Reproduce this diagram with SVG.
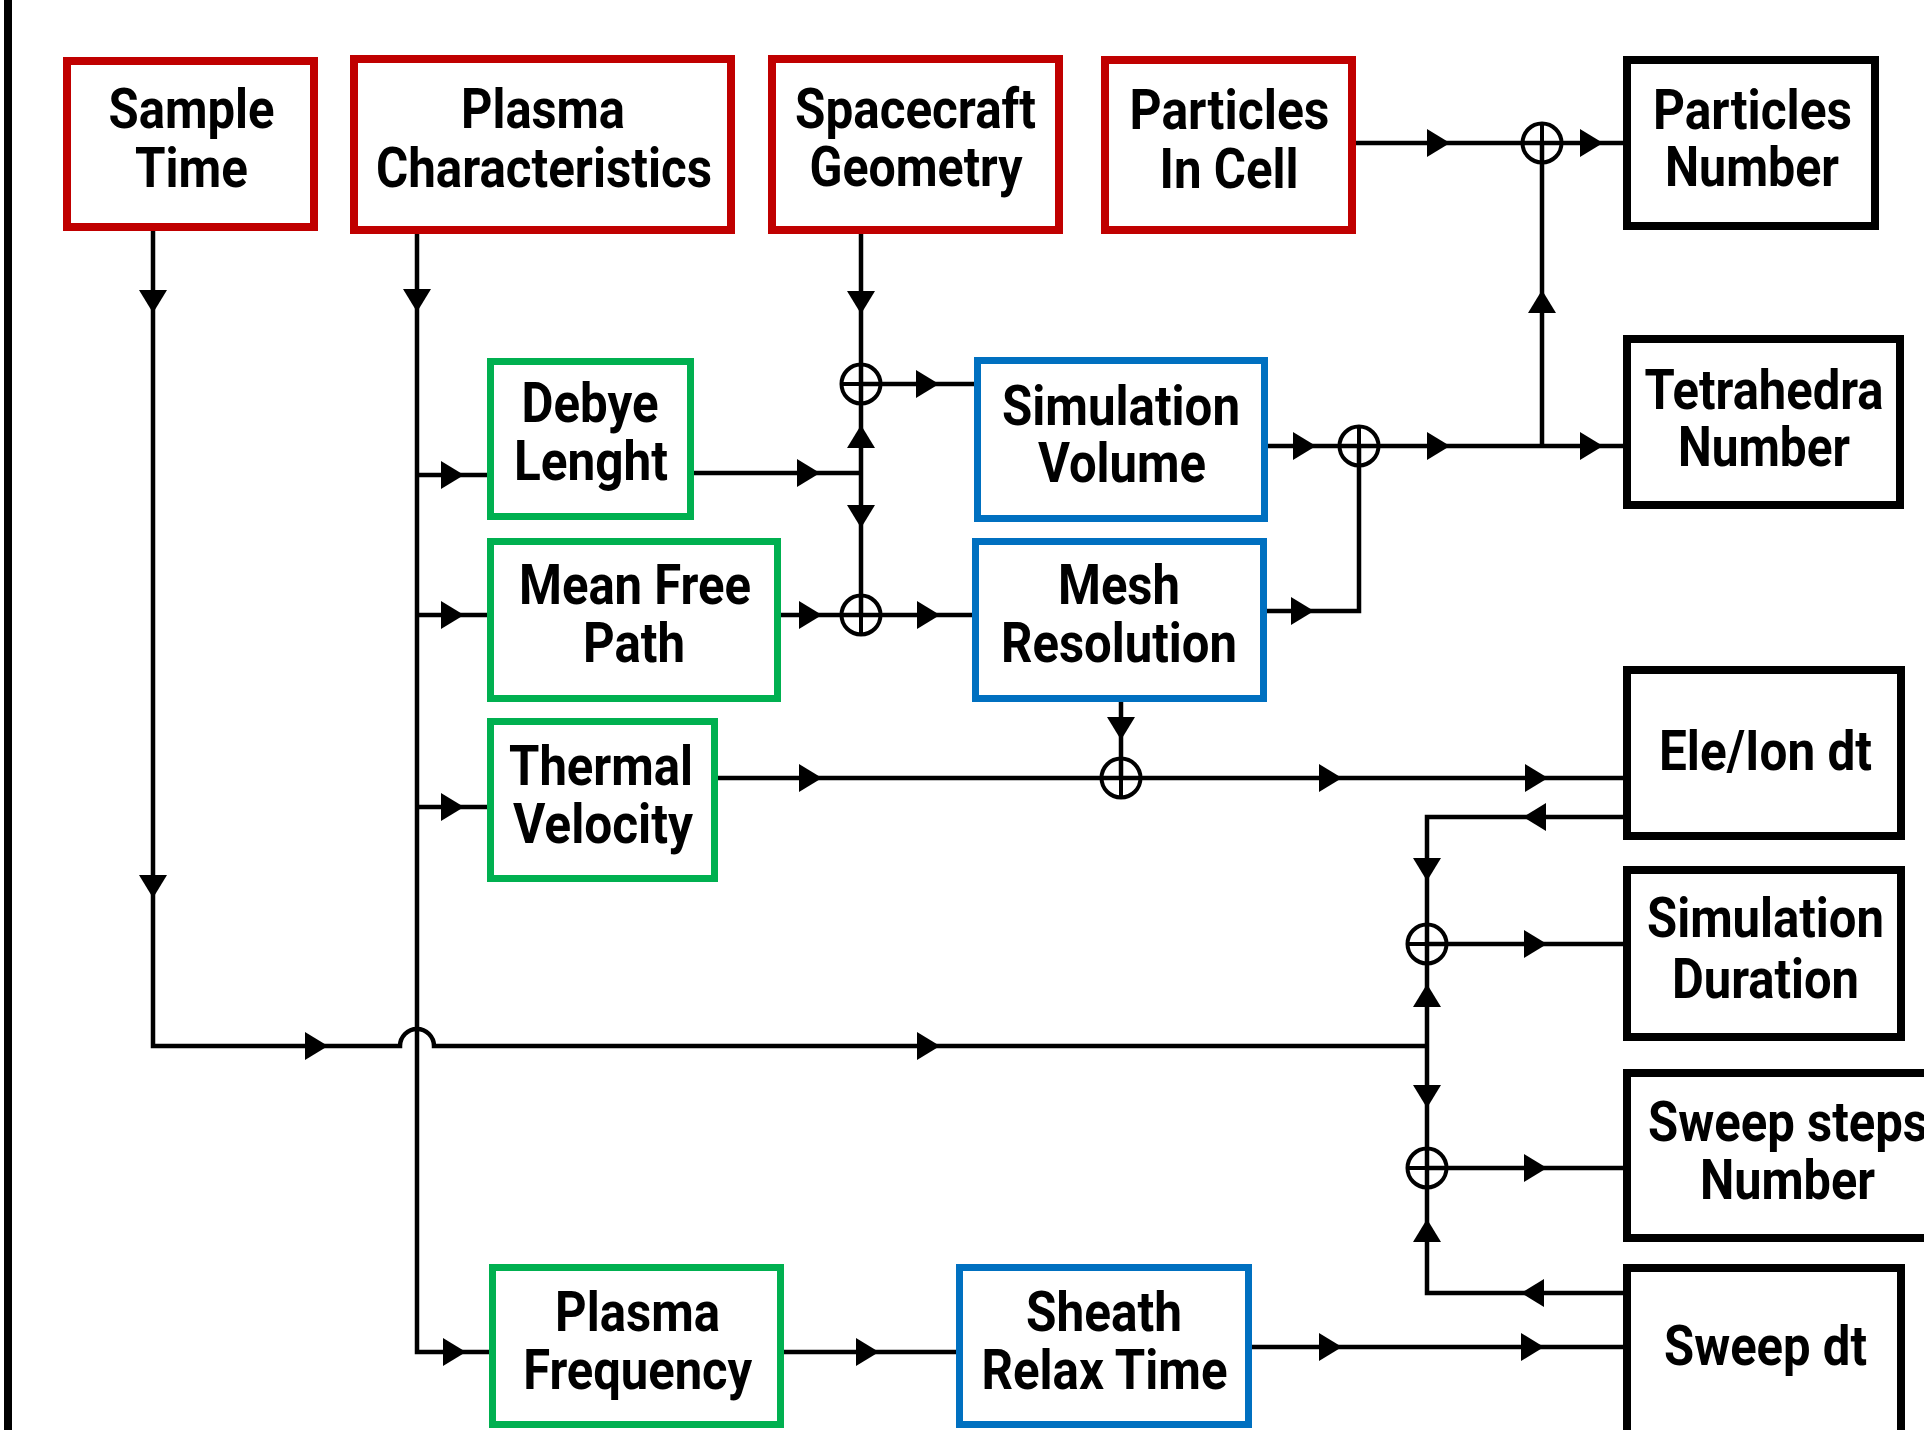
<svg xmlns="http://www.w3.org/2000/svg" xmlns:xlink="http://www.w3.org/1999/xlink" width="1924" height="1430" viewBox="0 0 1924 1430">
<style>
.red{fill:#fff;stroke:#C00000;stroke-width:8}
.grn{fill:#fff;stroke:#00B050;stroke-width:7}
.blu{fill:#fff;stroke:#0070C0;stroke-width:7}
.blk{fill:#fff;stroke:#000;stroke-width:8}
text{font-family:Roboto,"Liberation Sans",sans-serif;font-weight:700;font-size:55px;fill:#000;text-anchor:middle}
.ln{fill:none;stroke:#000;stroke-width:4.5;stroke-linejoin:miter}
.jn{fill:none;stroke:#000;stroke-width:4}
</style>
<defs>
<path id="ah" d="M0 0 L-23 -14 L-23 14 Z" fill="#000"/>
</defs>
<rect x="4" y="0" width="8" height="1430" fill="#000"/>

<g id="connectors">
<path class="ln" d="M153 231 V1046 H400 A17 17 0 0 1 434 1046 H1427"/>
<path class="ln" d="M417 234 V1352 H489 M417 475 H487 M417 615 H487 M417 807 H487"/>
<path class="ln" d="M861 234 V615 M694 473 H861 M861 384 H974 M781 615 H972"/>
<path class="ln" d="M1268 446 H1623 M1267 611 H1359 V446 M1542 446 V143 M1356 143 H1623"/>
<path class="ln" d="M1121 702 V778 M718 778 H1623"/>
<path class="ln" d="M1623 817 H1427 V1293 H1623 M1427 944 H1623 M1427 1168 H1623"/>
<path class="ln" d="M784 1352 H956 M1252 1347 H1623"/>
<g id="junctions">
<g transform="translate(861,384)"><circle class="jn" r="19.5"/><path class="jn" d="M-19.5 0 H19.5 M0 -19.5 V19.5"/></g>
<g transform="translate(861,615)"><circle class="jn" r="19.5"/><path class="jn" d="M-19.5 0 H19.5 M0 -19.5 V19.5"/></g>
<g transform="translate(1359,446)"><circle class="jn" r="19.5"/><path class="jn" d="M-19.5 0 H19.5 M0 -19.5 V19.5"/></g>
<g transform="translate(1542,143)"><circle class="jn" r="19.5"/><path class="jn" d="M-19.5 0 H19.5 M0 -19.5 V19.5"/></g>
<g transform="translate(1121,778)"><circle class="jn" r="19.5"/><path class="jn" d="M-19.5 0 H19.5 M0 -19.5 V19.5"/></g>
<g transform="translate(1427,944)"><circle class="jn" r="19.5"/><path class="jn" d="M-19.5 0 H19.5 M0 -19.5 V19.5"/></g>
<g transform="translate(1427,1168)"><circle class="jn" r="19.5"/><path class="jn" d="M-19.5 0 H19.5 M0 -19.5 V19.5"/></g>
</g>
<g id="arrowheads">
<use xlink:href="#ah" transform="translate(153,313) rotate(90)"/>
<use xlink:href="#ah" transform="translate(153,898) rotate(90)"/>
<use xlink:href="#ah" transform="translate(417,312) rotate(90)"/>
<use xlink:href="#ah" transform="translate(861,314) rotate(90)"/>
<use xlink:href="#ah" transform="translate(861,528) rotate(90)"/>
<use xlink:href="#ah" transform="translate(1121,740) rotate(90)"/>
<use xlink:href="#ah" transform="translate(1427,881) rotate(90)"/>
<use xlink:href="#ah" transform="translate(1427,1108) rotate(90)"/>
<use xlink:href="#ah" transform="translate(861,425) rotate(-90)"/>
<use xlink:href="#ah" transform="translate(1542,290) rotate(-90)"/>
<use xlink:href="#ah" transform="translate(1427,984) rotate(-90)"/>
<use xlink:href="#ah" transform="translate(1427,1219) rotate(-90)"/>
<use xlink:href="#ah" transform="translate(464,475)"/>
<use xlink:href="#ah" transform="translate(464,615)"/>
<use xlink:href="#ah" transform="translate(464,807)"/>
<use xlink:href="#ah" transform="translate(466,1352)"/>
<use xlink:href="#ah" transform="translate(820,473)"/>
<use xlink:href="#ah" transform="translate(939,384)"/>
<use xlink:href="#ah" transform="translate(822,615)"/>
<use xlink:href="#ah" transform="translate(940,615)"/>
<use xlink:href="#ah" transform="translate(1316,446)"/>
<use xlink:href="#ah" transform="translate(1450,446)"/>
<use xlink:href="#ah" transform="translate(1603,446)"/>
<use xlink:href="#ah" transform="translate(1450,143)"/>
<use xlink:href="#ah" transform="translate(1603,143)"/>
<use xlink:href="#ah" transform="translate(1314,611)"/>
<use xlink:href="#ah" transform="translate(822,778)"/>
<use xlink:href="#ah" transform="translate(1342,778)"/>
<use xlink:href="#ah" transform="translate(1548,778)"/>
<use xlink:href="#ah" transform="translate(1547,944)"/>
<use xlink:href="#ah" transform="translate(1547,1168)"/>
<use xlink:href="#ah" transform="translate(879,1352)"/>
<use xlink:href="#ah" transform="translate(1342,1347)"/>
<use xlink:href="#ah" transform="translate(1544,1347)"/>
<use xlink:href="#ah" transform="translate(328,1046)"/>
<use xlink:href="#ah" transform="translate(940,1046)"/>
<use xlink:href="#ah" transform="translate(1523,817) rotate(180)"/>
<use xlink:href="#ah" transform="translate(1521,1293) rotate(180)"/>
</g>
</g>

<g id="sample-time"><rect class="red" x="67" y="61" width="247" height="166"/>
<text x="191.5" y="128" textLength="166" lengthAdjust="spacingAndGlyphs">Sample</text>
<text x="191.5" y="187" textLength="113" lengthAdjust="spacingAndGlyphs">Time</text></g>

<g id="plasma-characteristics"><rect class="red" x="354" y="59" width="377" height="171"/>
<text x="543" y="128" textLength="164" lengthAdjust="spacingAndGlyphs">Plasma</text>
<text x="544" y="187" textLength="336" lengthAdjust="spacingAndGlyphs">Characteristics</text></g>

<g id="spacecraft-geometry"><rect class="red" x="772" y="59" width="287" height="171"/>
<text x="915.5" y="127.5" textLength="241" lengthAdjust="spacingAndGlyphs">Spacecraft</text>
<text x="916" y="186" textLength="213" lengthAdjust="spacingAndGlyphs">Geometry</text></g>

<g id="particles-in-cell"><rect class="red" x="1105" y="60" width="247" height="170"/>
<text x="1229.5" y="129" textLength="200" lengthAdjust="spacingAndGlyphs">Particles</text>
<text x="1229" y="187.5" textLength="139" lengthAdjust="spacingAndGlyphs">In Cell</text></g>

<g id="particles-number"><rect class="blk" x="1627" y="60" width="248" height="166"/>
<text x="1752.5" y="128.6" textLength="199" lengthAdjust="spacingAndGlyphs">Particles</text>
<text x="1752" y="186.4" textLength="174" lengthAdjust="spacingAndGlyphs">Number</text></g>

<g id="tetrahedra-number"><rect class="blk" x="1627" y="339" width="273" height="166"/>
<text x="1764" y="409" textLength="239" lengthAdjust="spacingAndGlyphs">Tetrahedra</text>
<text x="1764" y="466" textLength="172" lengthAdjust="spacingAndGlyphs">Number</text></g>

<g id="debye-lenght"><rect class="grn" x="490.5" y="361.5" width="200" height="155"/>
<text x="590" y="421.7" textLength="137" lengthAdjust="spacingAndGlyphs">Debye</text>
<text x="591" y="480" textLength="154" lengthAdjust="spacingAndGlyphs">Lenght</text></g>

<g id="simulation-volume"><rect class="blu" x="977.5" y="360.5" width="287" height="158"/>
<text x="1121" y="425" textLength="238" lengthAdjust="spacingAndGlyphs">Simulation</text>
<text x="1122" y="482" textLength="168" lengthAdjust="spacingAndGlyphs">Volume</text></g>

<g id="mean-free-path"><rect class="grn" x="490.5" y="541.5" width="287" height="157"/>
<text x="635" y="604" textLength="232" lengthAdjust="spacingAndGlyphs">Mean Free</text>
<text x="634" y="662" textLength="102" lengthAdjust="spacingAndGlyphs">Path</text></g>

<g id="mesh-resolution"><rect class="blu" x="975.5" y="541.5" width="288" height="157"/>
<text x="1119" y="604" textLength="122" lengthAdjust="spacingAndGlyphs">Mesh</text>
<text x="1119" y="662" textLength="236" lengthAdjust="spacingAndGlyphs">Resolution</text></g>

<g id="thermal-velocity"><rect class="grn" x="490.5" y="721.5" width="224" height="157"/>
<text x="601" y="785" textLength="184" lengthAdjust="spacingAndGlyphs">Thermal</text>
<text x="603" y="842.7" textLength="180" lengthAdjust="spacingAndGlyphs">Velocity</text></g>

<g id="plasma-frequency"><rect class="grn" x="492.5" y="1267.5" width="288" height="157"/>
<text x="637.5" y="1330.7" textLength="165" lengthAdjust="spacingAndGlyphs">Plasma</text>
<text x="637.7" y="1388.8" textLength="229" lengthAdjust="spacingAndGlyphs">Frequency</text></g>

<g id="sheath-relax-time"><rect class="blu" x="959.5" y="1267.5" width="289" height="157"/>
<text x="1104" y="1330.7" textLength="156" lengthAdjust="spacingAndGlyphs">Sheath</text>
<text x="1104.5" y="1388.8" textLength="246" lengthAdjust="spacingAndGlyphs">Relax Time</text></g>

<g id="ele-ion-dt"><rect class="blk" x="1627" y="670" width="274" height="166"/>
<text x="1765.5" y="769.5" textLength="213" lengthAdjust="spacingAndGlyphs">Ele/Ion dt</text></g>

<g id="simulation-duration"><rect class="blk" x="1627" y="870" width="274" height="167"/>
<text x="1765.5" y="937" textLength="237" lengthAdjust="spacingAndGlyphs">Simulation</text>
<text x="1765.5" y="997.7" textLength="187" lengthAdjust="spacingAndGlyphs">Duration</text></g>

<g id="sweep-steps-number"><rect class="blk" x="1627" y="1073" width="321" height="165"/>
<text x="1648" y="1141" textLength="280" lengthAdjust="spacingAndGlyphs" style="text-anchor:start">Sweep steps</text>
<text x="1787.5" y="1199" textLength="175" lengthAdjust="spacingAndGlyphs">Number</text></g>

<g id="sweep-dt"><rect class="blk" x="1627" y="1268" width="274" height="180"/>
<text x="1765.5" y="1365" textLength="203" lengthAdjust="spacingAndGlyphs">Sweep dt</text></g>
</svg>
